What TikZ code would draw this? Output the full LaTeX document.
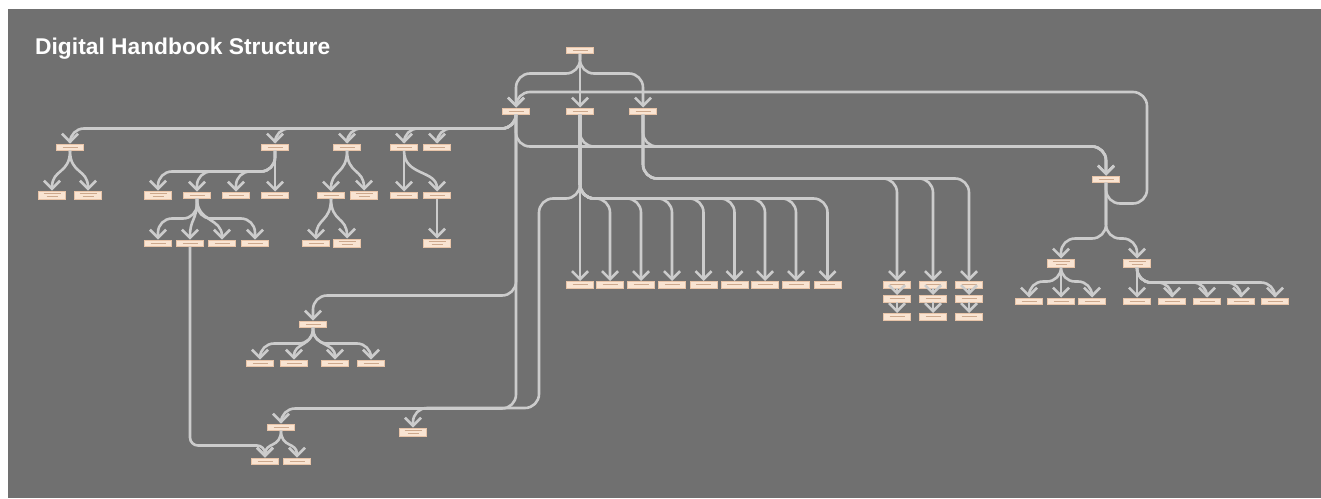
\documentclass[tikz,border=0pt]{standalone}
\usepackage{fontspec}
\usepackage{graphicx}
\newfontfamily\titlefont{Liberation Sans}
\usetikzlibrary{arrows.meta}
\definecolor{bgc}{RGB}{112,112,112}
\definecolor{linec}{RGB}{204,204,204}
\definecolor{boxfill}{RGB}{249,228,210}
\definecolor{boxline}{RGB}{232,196,168}
\definecolor{txtc}{RGB}{205,168,140}
\begin{document}
\begin{tikzpicture}[x=1pt,y=-1pt,
  box/.style={draw=boxline,fill=boxfill,line width=0.5pt,minimum width=27pt,minimum height=6.5pt,inner sep=0pt,
    path picture={\draw[txtc,line width=0.5pt] ([xshift=6pt]path picture bounding box.west) -- ([xshift=-6pt]path picture bounding box.east);}},
  box2/.style={draw=boxline,fill=boxfill,line width=0.5pt,minimum width=27pt,minimum height=8.5pt,inner sep=0pt,
    path picture={\draw[txtc,line width=0.5pt] ([xshift=5pt,yshift=1.6pt]path picture bounding box.west) -- ([xshift=-5pt,yshift=1.6pt]path picture bounding box.east);
                  \draw[txtc,line width=0.5pt] ([xshift=8pt,yshift=-1.6pt]path picture bounding box.west) -- ([xshift=-8pt,yshift=-1.6pt]path picture bounding box.east);}},
  conn/.style={draw=linec,line width=2.6pt,rounded corners=14pt,-{Straight Barb[length=8pt,width=16pt]}},
  ]
\useasboundingbox (0,0) rectangle (1321,498);
\fill[bgc] (8,9) rectangle (1321,498);
\node[anchor=base west,text=white,inner sep=0pt] (title) at (35,54) {\resizebox{295pt}{!}{\titlefont\bfseries Digital Handbook Structure}};

% nodes
\node[box] (root) at (580,50) {};
\node[box] (A) at (516,111) {};
\node[box] (B) at (580,111) {};
\node[box] (C) at (643,111) {};
\node[box] (X) at (1106,179) {};

\node[box] (b1) at (70,147) {};
\node[box2] (b1a) at (52,195) {};
\node[box2] (b1b) at (88,195) {};
\node[box] (b2) at (275,147) {};
\node[box2] (b2a) at (158,195) {};
\node[box] (b2b) at (197,195) {};
\node[box] (b2c) at (236,195) {};
\node[box] (b2d) at (275,195) {};
\node[box] (b2b1) at (158,243) {};
\node[box] (b2b2) at (190,243) {};
\node[box] (b2b3) at (222,243) {};
\node[box] (b2b4) at (255,243) {};
\node[box] (b3) at (347,147) {};
\node[box] (b3a) at (331,195) {};
\node[box2] (b3b) at (364,195) {};
\node[box] (b3a1) at (316,243) {};
\node[box2] (b3a2) at (347,243) {};
\node[box] (b4) at (404,147) {};
\node[box] (b4a) at (404,195) {};
\node[box] (b4b) at (437,195) {};
\node[box2] (b4b1) at (437,243) {};
\node[box] (b5) at (437,147) {};

\node[box] (p) at (313,324) {};
\node[box] (p1) at (260,363) {};
\node[box] (p2) at (294,363) {};
\node[box] (p3) at (335,363) {};
\node[box] (p4) at (371,363) {};
\node[box] (q) at (281,427) {};
\node[box] (q1) at (265,461) {};
\node[box] (q2) at (297,461) {};
\node[box2] (r) at (413,432) {};

\foreach \i/\x in {1/580,2/610,3/641,4/672,5/703.5,6/734.5,7/765,8/796,9/827.5}
  \node[box] (n\i) at (\x,284.5) {};
\foreach \i/\x in {1/897,2/933,3/969}{
  \node[box] (c\i) at (\x,284.5) {};
  \node[box] (c\i a) at (\x,298.5) {};
  \node[box] (c\i b) at (\x,316.5) {};
}
\node[box2] (y1) at (1061,263) {};
\node[box2] (y2) at (1137,263) {};
\node[box] (z1) at (1029,301) {};
\node[box] (z2) at (1061,301) {};
\node[box] (z3) at (1092,301) {};
\foreach \i/\x in {1/1137,2/1172,3/1207,4/1241,5/1275}
  \node[box] (w\i) at (\x,301) {};

% connectors
\draw[conn] (root.south) -- (B.north);
\draw[conn] (root.south) -- ++(0,20) -| (A.north);
\draw[conn] (root.south) -- ++(0,20) -| (C.north);

\draw[conn] (X.south) -- ++(0,21) -| (1147,92) -| (A.north);
\draw[conn] (A.south) -- ++(0,32) -| (X.north);
\draw[conn] (B.south) -- ++(0,32) -| (X.north);
\draw[conn] (C.south) -- ++(0,32) -| (X.north);

\foreach \t in {b1,b2,b3,b4,b5}
  \draw[conn] (A.south) -- ++(0,14) -| (\t.north);
\draw[conn] (A.south) -- ++(0,181) -| (p.north);
\draw[conn] (A.south) -- ++(0,294) -| (q.north);
\draw[conn] (B.south) -- ++(0,84) -| (539,408) -| (r.north);

\draw[conn] (B.south) -- (n1.north);
\foreach \i in {2,...,9}
  \draw[conn] (B.south) -- ++(0,84) -| (n\i.north);
\foreach \i in {1,2,3}{
  \draw[conn] (C.south) -- ++(0,64) -| (c\i.north);
  \draw[conn] (c\i.south) -- (c\i a.north);
  \draw[conn] (c\i a.south) -- (c\i b.north);
}

\draw[conn] (X.south) -- ++(0,56) -| (y1.north);
\draw[conn] (X.south) -- ++(0,56) -| (y2.north);
\draw[conn] (y1.south) -- ++(0,14) -| (z1.north);
\draw[conn] (y1.south) -- (z2.north);
\draw[conn] (y1.south) -- ++(0,14) -| (z3.north);
\draw[conn] (y2.south) -- (w1.north);
\foreach \i in {2,...,5}
  \draw[conn] (y2.south) -- ++(0,15) -| (w\i.north);

\draw[conn] (b1.south) .. controls +(0,24) and +(0,-22) .. (b1a.north);
\draw[conn] (b1.south) .. controls +(0,24) and +(0,-22) .. (b1b.north);
\foreach \t in {b2a,b2b,b2c}
  \draw[conn] (b2.south) -- ++(0,21) -| (\t.north);
\draw[conn] (b2.south) -- (b2d.north);
\draw[conn] (b2b.south) -- ++(0,20) -| (b2b1.north);
\draw[conn] (b2b.south) .. controls +(0,24) and +(0,-22) .. (b2b2.north);
\draw[conn] (b2b.south) .. controls +(0,24) and +(0,-22) .. (b2b3.north);
\draw[conn] (b2b.south) -- ++(0,20) -| (b2b4.north);
\draw[conn] (b3.south) .. controls +(0,24) and +(0,-22) .. (b3a.north);
\draw[conn] (b3.south) .. controls +(0,24) and +(0,-22) .. (b3b.north);
\draw[conn] (b3a.south) .. controls +(0,24) and +(0,-22) .. (b3a1.north);
\draw[conn] (b3a.south) .. controls +(0,24) and +(0,-22) .. (b3a2.north);
\draw[conn] (b4.south) -- (b4a.north);
\draw[conn] (b4.south) .. controls +(0,26) and +(0,-22) .. (b4b.north);
\draw[conn] (b4b.south) -- (b4b1.north);

\draw[conn] (p.south) -- ++(0,16) -| (p1.north);
\draw[conn] (p.south) .. controls +(0,20) and +(0,-18) .. (p2.north);
\draw[conn] (p.south) .. controls +(0,20) and +(0,-18) .. (p3.north);
\draw[conn] (p.south) -- ++(0,16) -| (p4.north);
\draw[conn] (q.south) .. controls +(0,18) and +(0,-16) .. (q1.north);
\draw[conn] (q.south) .. controls +(0,18) and +(0,-16) .. (q2.north);

\draw[conn,rounded corners=8pt] (b2b2.south) -- ++(0,199) -| (q1.north);
\end{tikzpicture}
\end{document}
